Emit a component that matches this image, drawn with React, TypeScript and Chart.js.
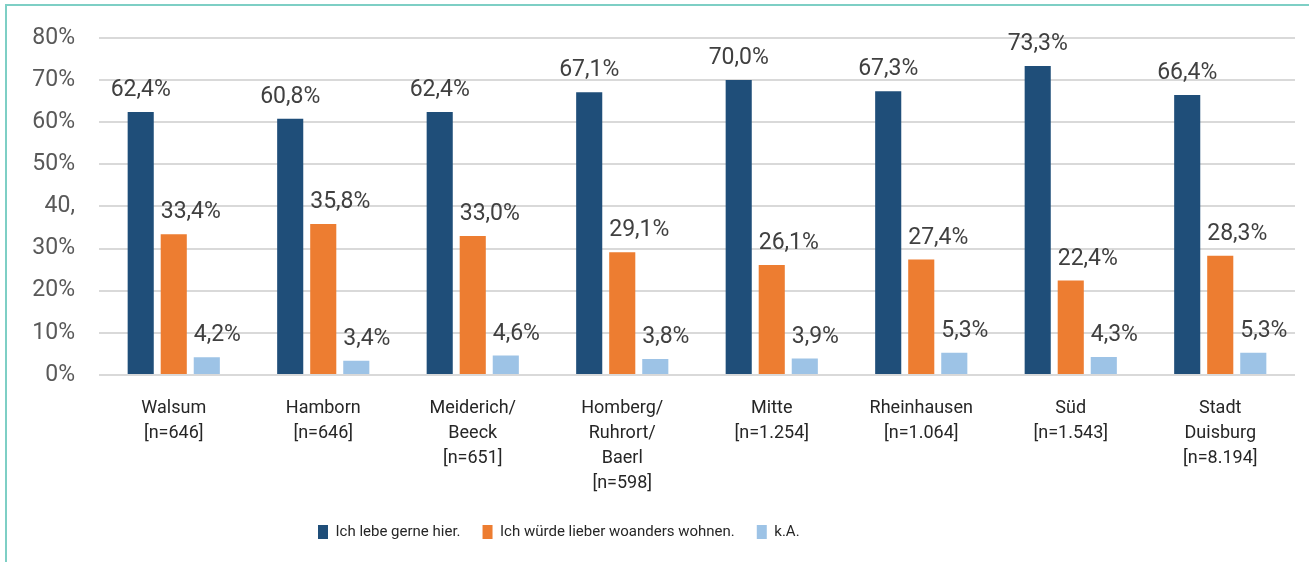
import React, { useEffect, useRef } from "react";
import { Chart, registerables } from "chart.js";

Chart.register(...registerables);

const CATEGORIES: string[][] = [
  ["Walsum", "[n=646]"],
  ["Hamborn", "[n=646]"],
  ["Meiderich/", "Beeck", "[n=651]"],
  ["Homberg/", "Ruhrort/", "Baerl", "[n=598]"],
  ["Mitte", "[n=1.254]"],
  ["Rheinhausen", "[n=1.064]"],
  ["Süd", "[n=1.543]"],
  ["Stadt", "Duisburg", "[n=8.194]"],
];

const SERIES_NAMES = ["Ich lebe gerne hier.", "Ich würde lieber woanders wohnen.", "k.A."];
const GERNE_HIER = [62.4, 60.8, 62.4, 67.1, 70.0, 67.3, 73.3, 66.4];
const WOANDERS = [33.4, 35.8, 33.0, 29.1, 26.1, 27.4, 22.4, 28.3];
const KEINE_ANGABE = [4.2, 3.4, 4.6, 3.8, 3.9, 5.3, 4.3, 5.3];
const Y_TICK_LABELS = ["0%", "10%", "20%", "30%", "40,", "50%", "60%", "70%", "80%"];

const COLORS = ["#1f4e79", "#ed7d31", "#9dc3e6"];
const W = 1309;
const H = 562;
const AREA_BOTTOM = 375;
const LEGEND_X = 318;
const LEGEND_CY = 532;
const LEGEND_PAD = 22;
const LEGEND_FONT = 15;
const LEGEND_BOX_H = 14;

const fmt = (v: number) => v.toFixed(1).replace(".", ",") + "%";

const dataLabelPlugin = {
  id: "dataLabels",
  afterDatasetsDraw(chart: any) {
    const ctx = chart.ctx;
    ctx.save();
    ctx.font = "23px Roboto";
    ctx.fillStyle = "#404040";
    ctx.textBaseline = "alphabetic";
    chart.data.datasets.forEach((ds: any, di: number) => {
      const meta = chart.getDatasetMeta(di);
      meta.data.forEach((el: any, i: number) => {
        const v = ds.data[i];
        const txt = fmt(v);
        if (di === 0) {
          ctx.textAlign = "center";
          ctx.fillText(txt, el.x, el.y - 16);
        } else {
          ctx.textAlign = "left";
          ctx.fillText(txt, el.x - el.width / 2, el.y - 16);
        }
      });
    });
    ctx.restore();
  },
};

const legendPlacePlugin = {
  id: "legendPlace",
  afterLayout(chart: any) {
    const lg = chart.legend;
    if (!lg) return;
    const itemH = Math.max(LEGEND_FONT, LEGEND_BOX_H);
    lg.left = LEGEND_X - LEGEND_PAD;
    lg.top = LEGEND_CY - LEGEND_PAD - itemH / 2;
  },
};

export default function App() {
  const ref = useRef<HTMLCanvasElement | null>(null);

  useEffect(() => {
    if (!ref.current) return;
    const chart = new Chart(ref.current, {
      type: "bar",
      data: {
        labels: CATEGORIES as any,
        datasets: [GERNE_HIER, WOANDERS, KEINE_ANGABE].map((d, i) => ({
          label: SERIES_NAMES[i],
          data: d,
          backgroundColor: COLORS[i],
          borderWidth: 0,
          categoryPercentage: 0.663,
          barPercentage: 0.79,
        })),
      },
      options: {
        animation: false,
        responsive: false,
        maintainAspectRatio: false,
        layout: { padding: { left: 0, right: 14, top: 37, bottom: 0 } },
        plugins: {
          tooltip: { enabled: false },
          legend: {
            position: "bottom",
            align: "start",
            labels: {
              boxWidth: 10,
              boxHeight: LEGEND_BOX_H,
              padding: LEGEND_PAD,
              color: "#262626",
              font: { family: "Roboto", size: LEGEND_FONT },
            },
          },
        },
        scales: {
          x: {
            grid: { display: false },
            border: { display: false },
            ticks: {
              color: "#262626",
              padding: 13,
              maxRotation: 0,
              autoSkip: false,
              font: { family: "Roboto", size: 18, lineHeight: 1.39 },
            },
            afterFit: (s: any) => {
              const lh = s.chart.legend ? s.chart.legend.height : 0;
              s.height = H - AREA_BOTTOM - lh;
            },
          },
          y: {
            min: 0,
            max: 80,
            border: { display: false },
            grid: { color: "#d9d9d9", lineWidth: 2, drawTicks: false },
            ticks: {
              stepSize: 10,
              padding: 24,
              color: "#595959",
              font: { family: "Roboto", size: 23 },
              callback: (v: any) => Y_TICK_LABELS[Math.round(Number(v) / 10)] ?? "",
            },
            afterFit: (s: any) => {
              s.width = 99;
            },
          },
        },
      },
      plugins: [dataLabelPlugin, legendPlacePlugin],
    });
    return () => chart.destroy();
  }, []);

  return (
    <div style={{ position: "fixed", left: 0, top: 0, width: W, height: H, background: "#fff" }}>
      <div
        style={{
          position: "absolute",
          left: 5,
          top: 4,
          right: 0,
          bottom: 0,
          borderTop: "2px solid #7ecfc5",
          borderLeft: "2px solid #7ecfc5",
        }}
      />
      <canvas ref={ref} width={W} height={H} style={{ position: "absolute", left: 0, top: 0, width: W, height: H }} />
    </div>
  );
}
